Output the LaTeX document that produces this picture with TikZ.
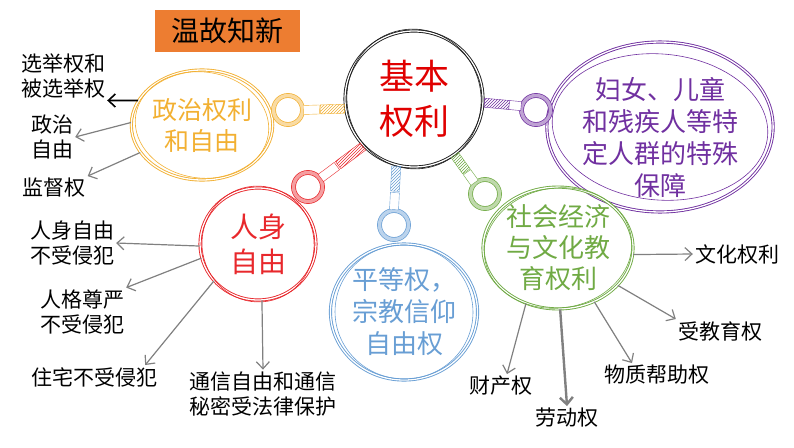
\documentclass[tikz,border=0pt]{standalone}
\usepackage{fontspec}
\setmainfont{Noto Sans CJK SC}
\usetikzlibrary{shapes.geometric,arrows.meta,patterns}

\definecolor{titleorange}{RGB}{237,125,49}
\definecolor{polcol}{RGB}{242,176,50}
\definecolor{percol}{RGB}{232,40,44}
\definecolor{equcol}{RGB}{104,158,212}
\definecolor{speccol}{RGB}{112,48,160}
\definecolor{soccol}{RGB}{112,170,68}
\definecolor{basecol}{RGB}{30,30,30}
\definecolor{basetext}{RGB}{224,0,0}
\definecolor{arrowgray}{RGB}{128,128,128}

\tikzset{
  bubble/.style={ellipse, draw=#1, text=#1, double=white, double distance=1.3pt,
    line width=.9pt, align=center, inner sep=0pt},
  ring/.style={circle, draw=#1, double=#1!45, double distance=3.4pt, line width=.7pt,
    minimum size=29pt, inner sep=0pt},
  hatch/.style={sloped, draw=#1, pattern=north east lines, pattern color=#1,
    minimum height=9pt, inner sep=0pt},
  grip/.style={sloped, draw=#1, fill=white, minimum height=9pt, inner sep=0pt},
  leaf/.style={font=\fontsize{21}{25}\selectfont, align=left, inner sep=2pt},
  branch/.style={draw=arrowgray, line width=1.2pt, -{Straight Barb[length=7pt,width=13pt]}},
}

\begin{document}
\begin{tikzpicture}[x=1pt, y=-1pt]
  \useasboundingbox (0,0) rectangle (794,447);

  % title
  \node[fill=titleorange, minimum width=145pt, minimum height=42pt, inner sep=0pt,
    font=\fontsize{28}{30}\selectfont] (title) at (227,31) {温故知新};

  % bubbles
  \node[bubble=basecol, text=basetext, minimum width=138pt, minimum height=136pt,
    font=\fontsize{35}{45}\selectfont] (basic) at (414,99) {基本\\权利};
  \node[bubble=polcol, minimum width=130pt, minimum height=110pt,
    font=\fontsize{25}{31}\selectfont] (pol) at (202,125) {政治权利\\和自由};
  \node[bubble=percol, minimum width=116pt, minimum height=112pt,
    font=\fontsize{28}{35}\selectfont] (per) at (258,244) {人身\\自由};
  \node[bubble=equcol, minimum width=142pt, minimum height=136pt,
    font=\fontsize{26}{32}\selectfont] (equ) at (404,312) {平等权，\\宗教信仰\\自由权};
  \node[bubble=speccol, minimum width=214pt, minimum height=150pt,
    font=\fontsize{26}{32}\selectfont] (spec) at (660,127)
    {\raisebox{-10pt}[\height][\depth]{\parbox{160pt}{\centering 妇女、儿童\\和残疾人等特\\定人群的特殊\\保障}}};
  \node[bubble=soccol, minimum width=150pt, minimum height=118pt,
    font=\fontsize{26}{31}\selectfont] (soc) at (558,248) {社会经济\\与文化教\\育权利};

  % rough second strokes
  \draw[basecol, line width=.6pt, rotate around={12:(basic.center)}] (basic.center) ellipse (67pt and 70pt);
  \draw[polcol, line width=.6pt, rotate around={-8:(pol.center)}] (pol.center) ellipse (67pt and 53pt);
  \draw[percol, line width=.6pt, rotate around={10:(per.center)}] (per.center) ellipse (56pt and 58pt);
  \draw[equcol, line width=.6pt, rotate around={-6:(equ.center)}] (equ.center) ellipse (69pt and 67pt);
  \draw[speccol, line width=.6pt, rotate around={-5:(spec.center)}] (spec.center) ellipse (108pt and 73pt);
  \draw[soccol, line width=.6pt, rotate around={8:(soc.center)}] (soc.center) ellipse (74pt and 60pt);

  % rings
  \node[ring=polcol] (polring) at (288,110) {};
  \node[ring=percol] (perring) at (308,187) {};
  \node[ring=equcol] (equring) at (394,225) {};
  \node[ring=soccol] (socring) at (485,194) {};
  \node[ring=speccol] (specring) at (536,110) {};

  % handles
  \path (basic.188) -- (polring.east)
    node[hatch=polcol, pos=.3, minimum width=24pt] {}
    node[grip=polcol, pos=.8, minimum width=16pt] {};
  \path (basic.223) -- (perring.35)
    node[hatch=percol, pos=.3, minimum width=31pt] {}
    node[grip=percol, pos=.8, minimum width=20pt] {};
  \path (basic.255) -- (equring.north)
    node[hatch=equcol, pos=.3, minimum width=25pt] {}
    node[grip=equcol, pos=.8, minimum width=17pt] {};
  \path (basic.306) -- (socring.133)
    node[hatch=soccol, pos=.3, minimum width=20pt] {}
    node[grip=soccol, pos=.8, minimum width=13pt] {};
  \path (basic.357) -- (specring.165)
    node[hatch=speccol, pos=.35, minimum width=25pt] {}
    node[grip=speccol, pos=.83, minimum width=12pt] {};

  % leaves
  \node[leaf] (elect) at (63,76) {选举权和\\被选举权};
  \node[leaf, align=center] (speech) at (52,137) {政治\\自由};
  \node[leaf] (superv) at (54,188) {监督权};
  \node[leaf] (pfree) at (72,243) {人身自由\\不受侵犯};
  \node[leaf] (dign) at (82,312) {人格尊严\\不受侵犯};
  \node[leaf] (home) at (94,377) {住宅不受侵犯};
  \node[leaf] (corr) at (263,394) {通信自由和通信\\秘密受法律保护};
  \node[leaf] (cult) at (737,254) {文化权利};
  \node[leaf] (edu) at (720,331) {受教育权};
  \node[leaf] (aid) at (657,375) {物质帮助权};
  \node[leaf] (prop) at (501,386) {财产权};
  \node[leaf] (labour) at (567,418) {劳动权};

  % branches
  \draw[branch, draw=black, line width=1.6pt] (pol.159) -- (elect.south east);
  \draw[branch] (pol.178) -- (speech.east);
  \draw[branch] (pol.204) -- (superv.north east);
  \draw[branch] (per.182) -- (pfree.east);
  \draw[branch] (per.194) -- (dign.north east);
  \draw[branch] (per.220) -- ([xshift=-14pt]home.north east);
  \draw[branch] (per.274) -- (corr.north);
  \draw[branch] (soc.355) -- (cult.west);
  \draw[branch] (soc.328) -- (edu.north west);
  \draw[branch] (soc.304) -- ([xshift=-25pt]aid.north);
  \draw[branch] (soc.240) -- ([xshift=6pt]prop.north);
  \draw[branch, line width=2.4pt] (soc.272) -- (labour.north);
\end{tikzpicture}
\end{document}
